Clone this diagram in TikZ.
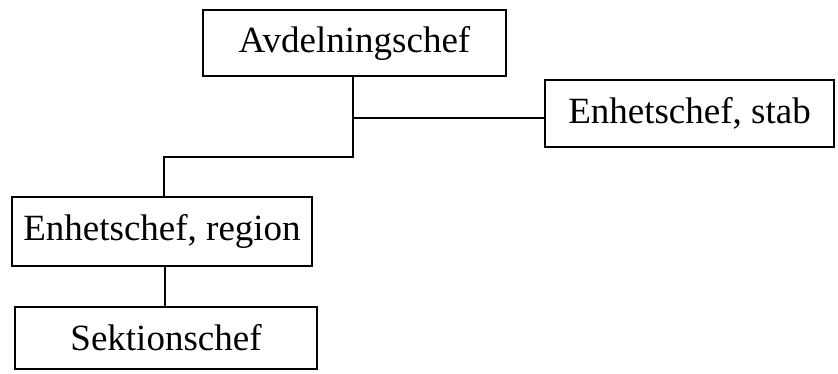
\documentclass[tikz,border=0pt]{standalone}
\usepackage{fontspec}
\setmainfont{Liberation Serif}
\begin{document}
\begin{tikzpicture}[x=1pt,y=-1pt,
  box/.style={draw, line width=1.8pt, inner sep=0pt, font=\fontsize{37}{42}\selectfont},
  conn/.style={line width=1.3pt}]
\useasboundingbox (0,0) rectangle (838,374);
\node[box, minimum width=303pt, minimum height=66pt] (a) at (354.5,43) {Avdelningschef};
\node[box, minimum width=289pt, minimum height=67pt] (s) at (689.5,113.5) {Enhetschef, stab};
\node[box, minimum width=300pt, minimum height=69pt] (r) at (162,231.5) {Enhetschef, region};
\node[box, minimum width=302pt, minimum height=62pt] (k) at (166,338) {Sektionschef};
\coordinate (j) at (353,157);
\coordinate (js) at (353,118);
\draw[conn] (a.south -| j) -- (j) -| (r.north -| 164,0);
\draw[conn] (js) -- (js -| s.west);
\draw[conn] (r.south -| 165,0) -- (k.north -| 165,0);
\end{tikzpicture}
\end{document}
